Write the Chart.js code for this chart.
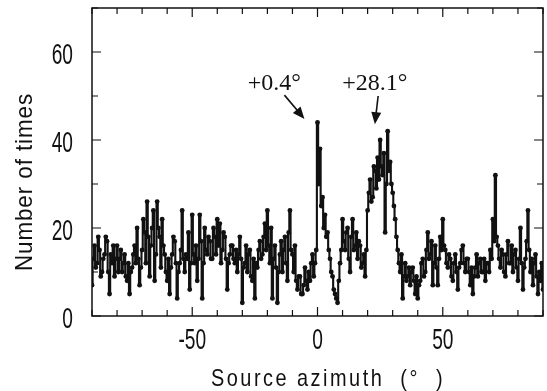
<!DOCTYPE html>
<html>
<head>
<meta charset="utf-8">
<script src="https://cdn.jsdelivr.net/npm/chart.js@4.4.0/dist/chart.umd.min.js"></script>
<style>
  html, body { margin: 0; padding: 0; background: #fff; }
  #wrap { width: 547px; height: 391px; }
</style>
</head>
<body>
<div id="wrap"><canvas id="azimuthChart" width="547" height="391"></canvas></div>
<script>
// source azimuth bins, half a degree wide
const azimuths = [];
for (let a = -90; a <= 90; a += 0.5) azimuths.push(a);

// counts, -90 .. 90 in 0.5 deg steps
const counts = [
    7, 13, 16, 11, 12, 18, 15, 9, 10, 13, 14, 18, 17, 10, 5, 14, 12, 16, 9, 13,        // -90 ..
    16, 10, 13, 15, 10, 12, 14, 9, 8, 12, 5, 10, 11, 14, 16, 12, 20, 13, 7, 11,        // -80 ..
    15, 22, 19, 12, 26, 18, 9, 16, 20, 24, 8, 14, 26, 20, 18, 11, 22, 16, 14, 10,      // -70 ..
    8, 13, 5, 11, 14, 18, 17, 12, 4, 10, 12, 15, 24, 13, 10, 14, 13, 19, 6, 12,        // -60 ..
    23, 14, 12, 16, 8, 13, 23, 17, 4, 12, 20, 15, 14, 18, 17, 13, 13, 20, 18, 14,      // -50 ..
    22, 16, 21, 12, 15, 19, 18, 13, 6, 12, 14, 16, 16, 13, 12, 15, 10, 14, 18, 13,     // -40 ..
    3, 11, 12, 16, 10, 14, 15, 9, 8, 13, 4, 12, 11, 15, 17, 13, 14, 18, 21, 15,        // -30 ..
    24, 16, 12, 20, 4, 13, 16, 11, 3, 10, 14, 17, 10, 15, 18, 12, 8, 19, 24, 15,       // -20 ..
    14, 10, 16, 8, 6, 9, 9, 5, 5, 7, 11, 8, 6, 10, 8, 12, 14, 9, 12, 15,               // -10 ..
    44, 30, 38, 25, 27, 20, 23, 18, 19, 15, 13, 10, 9, 6, 5, 4, 3, 8, 12, 15,          // 0 ..
    22, 17, 15, 19, 20, 13, 10, 18, 22, 15, 16, 19, 13, 17, 16, 11, 12, 14, 9, 15,     // 10 ..
    24, 28, 31, 26, 27, 34, 33, 29, 36, 31, 40, 34, 32, 37, 19, 30, 42, 33, 35, 30,    // 20 ..
    28, 25, 22, 18, 15, 12, 10, 14, 4, 9, 12, 8, 9, 11, 7, 10, 11, 8, 5, 9,            // 30 ..
    4, 7, 8, 12, 13, 9, 10, 15, 19, 13, 14, 17, 7, 12, 16, 11, 7, 13, 18, 15,          // 40 ..
    22, 16, 15, 12, 11, 14, 13, 9, 8, 12, 14, 10, 6, 11, 12, 15, 16, 12, 10, 13,       // 50 ..
    13, 10, 7, 11, 5, 9, 11, 14, 9, 12, 13, 10, 10, 13, 8, 12, 12, 10, 15, 13,         // 60 ..
    22, 17, 32, 18, 16, 13, 11, 15, 14, 10, 9, 14, 17, 12, 12, 16, 10, 14, 15, 11,     // 70 ..
    8, 13, 20, 12, 6, 11, 13, 17, 24, 15, 10, 13, 7, 12, 14, 9, 5, 10, 8, 12,          // 80 ..
    6                                                                                  // 90
];

const xTickLabels = [-50, 0, 50];
const yTickLabels = [0, 20, 40, 60];
const xTitle = 'Source azimuth  (°  )';
const yTitle = 'Number of times';

// peak annotations: label, arrow tail and tip in data units
const peakLabels = ['+0.4°', '+28.1°'];
const peakLabelPos = [[-17.2, 51.4], [22.9, 51.4]];
const peakArrowFrom = [[-13.2, 50.2], [24.2, 50.0]];
const peakArrowTo = [[-5.2, 44.8], [22.9, 43.6]];

const sans = "'Liberation Sans', Arial, sans-serif";
const serif = "'Liberation Serif', 'Times New Roman', serif";

// draws text squeezed horizontally, like the narrow face of the original
function drawText(ctx, txt, x, y, opts) {
    ctx.save();
    ctx.translate(x, y);
    if (opts.rotate) ctx.rotate(opts.rotate);
    ctx.font = opts.font;
    ctx.letterSpacing = opts.spacing || '0px';
    ctx.textAlign = opts.align || 'center';
    ctx.textBaseline = 'alphabetic';
    let sx = opts.scale || 1;
    if (opts.fit) sx = opts.fit / ctx.measureText(txt).width;
    ctx.scale(sx, 1);
    ctx.fillText(txt, 0, 0);
    ctx.restore();
}

const framePlugin = {
    id: 'frame',
    afterDatasetsDraw(chart) {
        const { ctx, chartArea: a, scales: { x, y } } = chart;
        ctx.save();
        ctx.strokeStyle = '#111';
        ctx.fillStyle = '#111';
        ctx.lineWidth = 1.5;
        ctx.strokeRect(a.left, a.top, a.right - a.left, a.bottom - a.top);

        // inward ticks on all four sides
        ctx.lineWidth = 1.2;
        for (let v = -90; v <= 90; v += 10) {
            const px = x.getPixelForValue(v);
            const len = xTickLabels.includes(v) ? 9 : 6;
            ctx.beginPath();
            ctx.moveTo(px, a.bottom); ctx.lineTo(px, a.bottom - len);
            ctx.moveTo(px, a.top); ctx.lineTo(px, a.top + len);
            ctx.stroke();
        }
        for (let v = 0; v <= 70; v += 10) {
            const py = y.getPixelForValue(v);
            const len = yTickLabels.includes(v) ? 9 : 6;
            ctx.beginPath();
            ctx.moveTo(a.left, py); ctx.lineTo(a.left + len, py);
            ctx.moveTo(a.right, py); ctx.lineTo(a.right - len, py);
            ctx.stroke();
        }

        // tick labels and axis titles
        xTickLabels.forEach((v) => {
            drawText(ctx, String(v), x.getPixelForValue(v), a.bottom + 33, { font: '29px ' + sans, scale: 0.66 });
        });
        yTickLabels.forEach((v) => {
            drawText(ctx, String(v), a.left - 19, y.getPixelForValue(v) + 12, { font: '29px ' + sans, scale: 0.66, align: 'right' });
        });
        drawText(ctx, xTitle, 328, 386, { font: '24px ' + sans, spacing: '3px', fit: 234 });
        drawText(ctx, yTitle, 32, 182, { font: '24px ' + sans, spacing: '1px', fit: 178, rotate: -Math.PI / 2 });

        // peak labels and arrows
        peakLabels.forEach((txt, i) => {
            drawText(ctx, txt, x.getPixelForValue(peakLabelPos[i][0]), y.getPixelForValue(peakLabelPos[i][1]), { font: '24px ' + serif });
            const x0 = x.getPixelForValue(peakArrowFrom[i][0]);
            const y0 = y.getPixelForValue(peakArrowFrom[i][1]);
            const x1 = x.getPixelForValue(peakArrowTo[i][0]);
            const y1 = y.getPixelForValue(peakArrowTo[i][1]);
            const ang = Math.atan2(y1 - y0, x1 - x0);
            const c = Math.cos(ang), s = Math.sin(ang);
            ctx.lineWidth = 1.6;
            ctx.beginPath();
            ctx.moveTo(x0, y0);
            ctx.lineTo(x1 - 8 * c, y1 - 8 * s);
            ctx.stroke();
            ctx.beginPath();
            ctx.moveTo(x1, y1);
            ctx.lineTo(x1 - 12 * c + 5 * s, y1 - 12 * s - 5 * c);
            ctx.lineTo(x1 - 12 * c - 5 * s, y1 - 12 * s + 5 * c);
            ctx.closePath();
            ctx.fill();
        });
        ctx.restore();
    }
};

const ctx = document.getElementById('azimuthChart').getContext('2d');
new Chart(ctx, {
    type: 'line',
    data: {
        datasets: [{
            label: yTitle,
            data: azimuths.map((a, i) => ({ x: a, y: counts[i] })),
            stepped: 'middle',
            borderColor: '#111',
            borderWidth: 2.1,
            pointRadius: 2.4,
            pointBackgroundColor: '#111',
            pointBorderWidth: 0,
            fill: false,
        }],
    },
    options: {
        responsive: false,
        animation: false,
        layout: { padding: { top: 8, right: 1, left: 0, bottom: 0 } },
        plugins: {
            legend: { display: false },
            tooltip: { enabled: false },
        },
        scales: {
            x: {
                type: 'linear',
                min: -90,
                max: 90,
                grid: { display: false, drawTicks: false },
                border: { display: false },
                ticks: { display: false },
                afterFit: (scale) => { scale.height = 75; },
            },
            y: {
                min: 0,
                max: 70,
                grid: { display: false, drawTicks: false },
                border: { display: false },
                ticks: { display: false },
                afterFit: (scale) => { scale.width = 92; },
            },
        },
    },
    plugins: [framePlugin],
});
</script>
</body>
</html>
